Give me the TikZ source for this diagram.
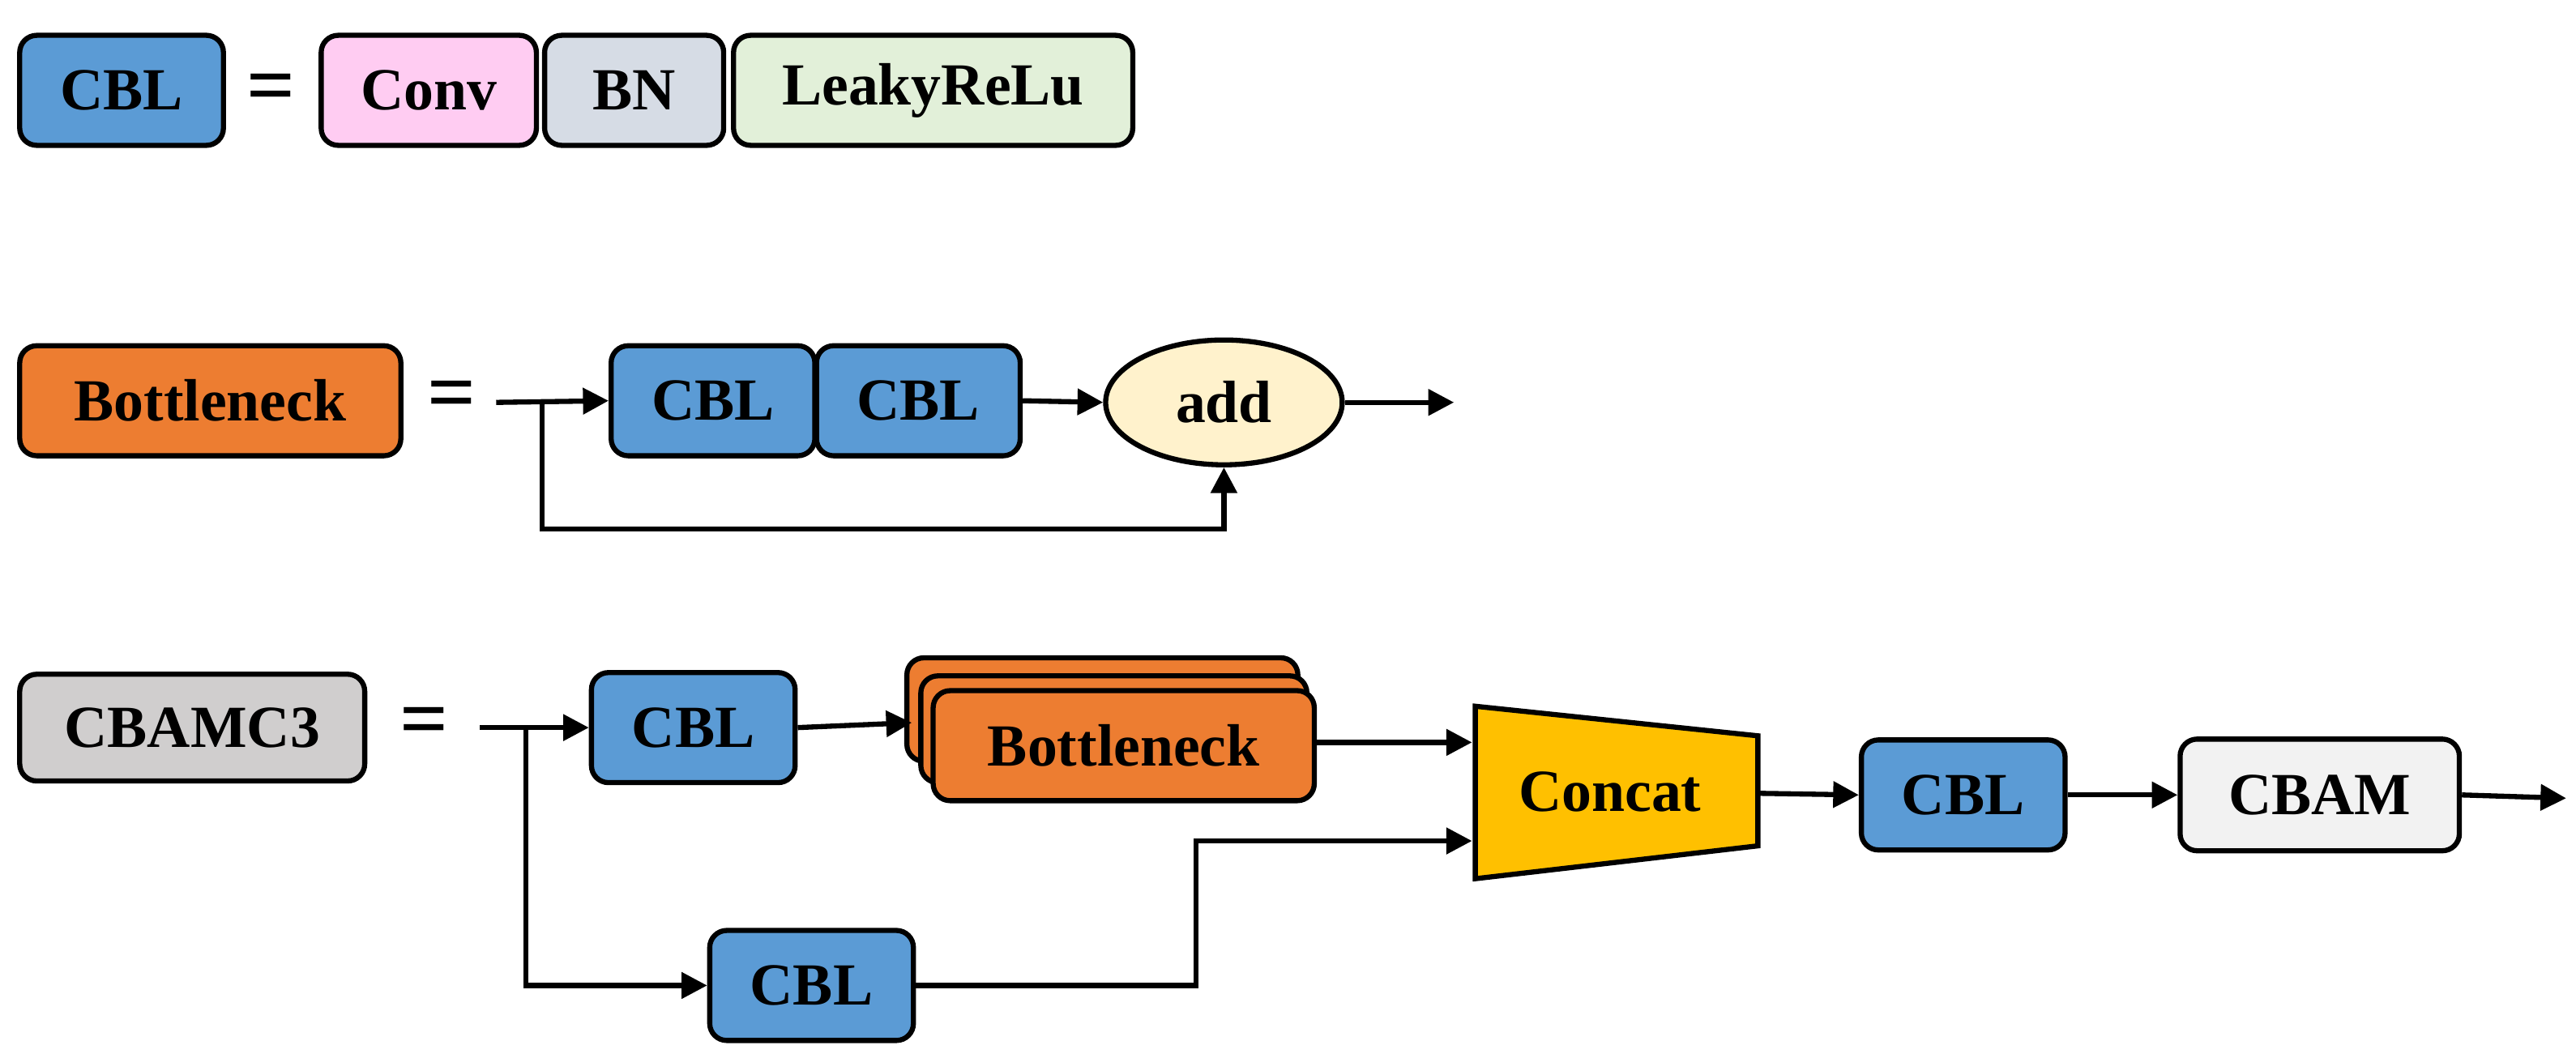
\documentclass[tikz,border=0pt]{standalone}
\usepackage{fontspec}
\setmainfont{Liberation Serif}
\usetikzlibrary{arrows.meta,shapes.geometric}
\definecolor{cblblue}{HTML}{5B9BD5}
\definecolor{bottleorange}{HTML}{ED7D31}
\definecolor{convpink}{HTML}{FFCCF2}
\definecolor{bngray}{HTML}{D6DCE5}
\definecolor{relugreen}{HTML}{E2F0D9}
\definecolor{addyellow}{HTML}{FFF2CC}
\definecolor{c3gray}{HTML}{D0CECE}
\definecolor{concatgold}{HTML}{FFC000}
\definecolor{cbamwhite}{HTML}{F2F2F2}
\tikzset{
  block/.style = {draw=black, line width=1.8pt, rounded corners=6pt, align=center,
    inner sep=0pt, font=\fontsize{21}{25}\selectfont\bfseries},
  cbl/.style = {block, fill=cblblue, minimum width=124*0.0203cm, minimum height=67*0.0203cm},
  link/.style = {line width=1.8pt, -{Triangle[length=9pt,width=9pt]}},
  line/.style = {line width=1.8pt},
  eq/.style = {font=\fontsize{30}{30}\selectfont\bfseries, inner sep=0pt}
}
\begin{document}
\begin{tikzpicture}[x=0.0203cm,y=-0.0203cm]
\useasboundingbox (0,0) rectangle (1568,644);
% legend row
\node [cbl] (cbla) at (74,55) {CBL};
\node [eq] (eqa) at (165,57) {=};
\node [block, fill=convpink, minimum width=131*0.0203cm, minimum height=67*0.0203cm] (conv) at (261,55) {Conv};
\node [block, fill=bngray, minimum width=109*0.0203cm, minimum height=67*0.0203cm] (bn) at (386,55) {BN};
\node [block, fill=relugreen, minimum width=243*0.0203cm, minimum height=67*0.0203cm] (relu) at (568,55) {LeakyReLu};
% bottleneck row
\node [block, fill=bottleorange, minimum width=232*0.0203cm, minimum height=67*0.0203cm] (bneck) at (128,244) {Bottleneck};
\node [eq] (eqb) at (275,244) {=};
\coordinate (bin) at (302,245);
\coordinate (bsplit) at (330,245);
\node [cbl] (cblb) at (434,244) {CBL};
\node [cbl] (cblc) at (559,244) {CBL};
\node [block, ellipse, fill=addyellow, minimum width=144*0.0203cm, minimum height=76*0.0203cm] (add) at (745,245) {add};
\coordinate (bout) at (885,245);
\draw [link] (bin) -- (cblb.west);
\draw [link] (cblc.east) -- (add.west);
\draw [link] (add.east) -- (bout);
\draw [link] (bsplit) |- (745,322) -- (add.south);
% CBAMC3 row
\node [block, fill=c3gray, minimum width=210*0.0203cm, minimum height=65*0.0203cm] (c3) at (117,443) {CBAMC3};
\node [eq] (eqc) at (258,443) {=};
\coordinate (cin) at (292,443);
\coordinate (csplit) at (320,443);
\node [cbl] (cbld) at (422,443) {CBL};
\node [block, fill=bottleorange, minimum width=238*0.0203cm, minimum height=63*0.0203cm] (bk3) at (671,432) {};
\node [block, fill=bottleorange, minimum width=235*0.0203cm, minimum height=65*0.0203cm] (bk2) at (678,444) {};
\node [block, fill=bottleorange, minimum width=232*0.0203cm, minimum height=67*0.0203cm] (bk1) at (684,454) {Bottleneck};
\draw [line width=1.8pt, fill=concatgold] (898,430) -- (1070,448) -- (1070,515) -- (898,535) -- cycle;
\node [font=\fontsize{21}{25}\selectfont\bfseries] (concat) at (980,482) {Concat};
\coordinate (ctop) at (896,452);
\coordinate (cbot) at (896,512);
\coordinate (cout) at (1070,483);
\node [cbl] (cble) at (1195,484) {CBL};
\node [block, fill=cbamwhite, minimum width=170*0.0203cm, minimum height=68*0.0203cm] (cbam) at (1412,484) {CBAM};
\coordinate (cend) at (1562,486);
\node [cbl] (cblf) at (494,600) {CBL};
\draw [link] (cin) -- (cbld.west);
\draw [link] (cbld.east) -- (555,440);
\draw [link] (bk1.east |- ctop) -- (ctop);
\draw [link] (csplit) |- (cblf.west);
\draw [link] (cblf.east) -| (728,512) -- (cbot);
\draw [link] (cout) -- (cble.west);
\draw [link] (cble.east) -- (cbam.west);
\draw [link] (cbam.east) -- (cend);
\end{tikzpicture}
\end{document}
